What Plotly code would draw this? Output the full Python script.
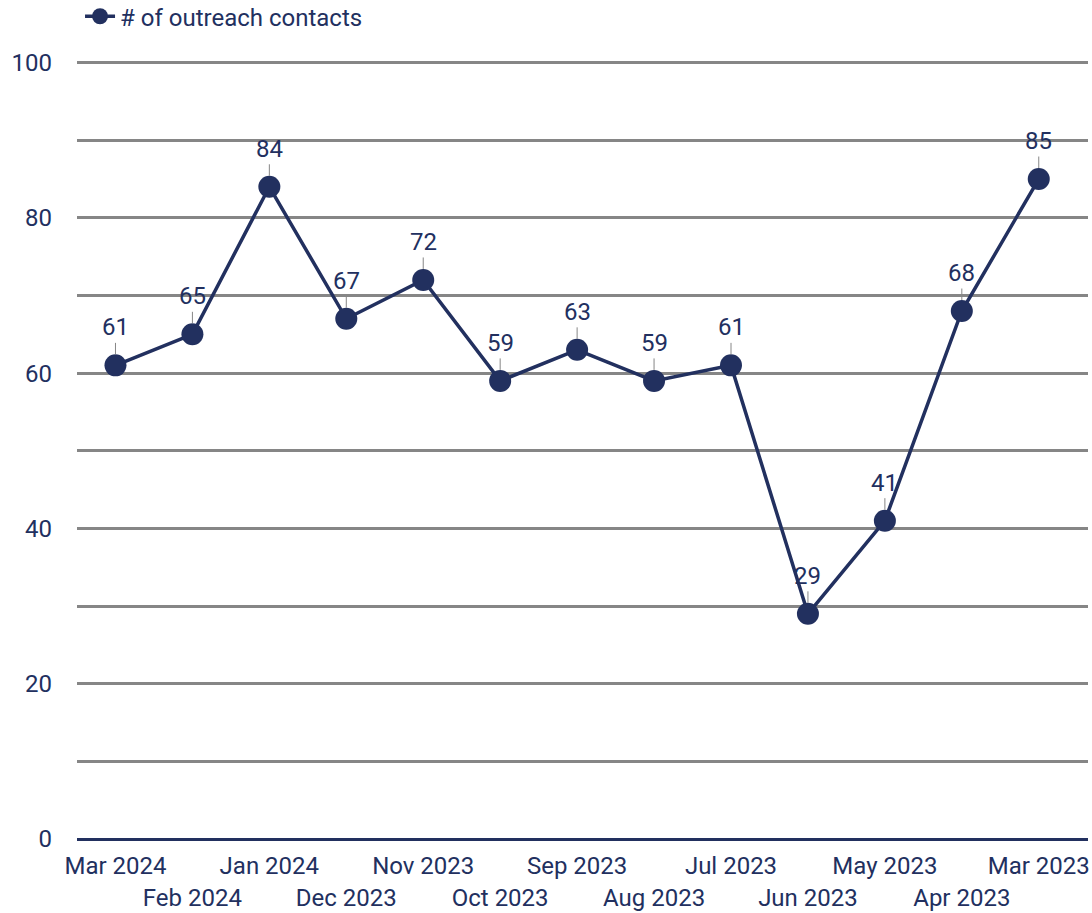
import plotly.graph_objects as go

months = ["Mar 2024", "Feb 2024", "Jan 2024", "Dec 2023", "Nov 2023", "Oct 2023",
          "Sep 2023", "Aug 2023", "Jul 2023", "Jun 2023", "May 2023", "Apr 2023", "Mar 2023"]
contacts = [61, 65, 84, 67, 72, 59, 63, 59, 61, 29, 41, 68, 85]

navy = "#22305f"
grey = "#868686"
font_family = "Roboto, Arial, sans-serif"

idx = list(range(len(months)))

fig = go.Figure()
fig.add_trace(go.Scatter(
    x=idx, y=contacts, mode="lines+markers", name="# of outreach contacts",
    line=dict(color=navy, width=3.5),
    marker=dict(color=navy, size=22),
    cliponaxis=False,
))
# invisible trace so the second label row axis gets drawn
fig.add_trace(go.Scatter(x=idx, y=contacts, xaxis="x2", mode="markers",
                         marker=dict(opacity=0), showlegend=False, hoverinfo="skip"))

# value labels with short leader lines
for i, v in zip(idx, contacts):
    fig.add_annotation(
        x=i, y=v, text=str(v), showarrow=True, ax=0, ay=-38,
        arrowhead=0, arrowwidth=1, arrowcolor=grey, standoff=11,
        font=dict(size=24, color=navy, family=font_family),
    )

even = idx[0::2]
odd = idx[1::2]

fig.update_layout(
    width=1092, height=913,
    margin=dict(l=77, r=4, t=61, b=74, autoexpand=False),
    plot_bgcolor="white", paper_bgcolor="white",
    font=dict(family=font_family, size=24, color=navy),
    showlegend=True,
    legend=dict(orientation="h", x=0.003, y=1.057, xanchor="left", yanchor="middle",
                font=dict(size=24, color=navy), bgcolor="rgba(0,0,0,0)"),
    xaxis=dict(range=[-0.5, 12.64], tickvals=even, ticktext=[months[i] for i in even],
               showgrid=False, zeroline=False, ticks="", ticklabelstandoff=10,
               automargin=False, tickfont=dict(size=24, color=navy)),
    xaxis2=dict(overlaying="x", matches="x", side="bottom", tickvals=odd,
                ticktext=[months[i] for i in odd], showgrid=False, zeroline=False,
                ticks="", ticklabelstandoff=42, automargin=False,
                tickfont=dict(size=24, color=navy)),
    yaxis=dict(range=[0, 100.2], tickvals=[0, 20, 40, 60, 80, 100],
               showgrid=True, gridcolor=grey, gridwidth=2.5,
               minor=dict(dtick=10, showgrid=True, gridcolor=grey, gridwidth=2.5),
               zeroline=True, zerolinecolor=navy, zerolinewidth=3,
               ticks="", ticklabelstandoff=24, automargin=False,
               tickfont=dict(size=24, color=navy)),
)

fig.write_html("out.html", config={"displayModeBar": False},
               post_script="document.body.style.margin='0';")
